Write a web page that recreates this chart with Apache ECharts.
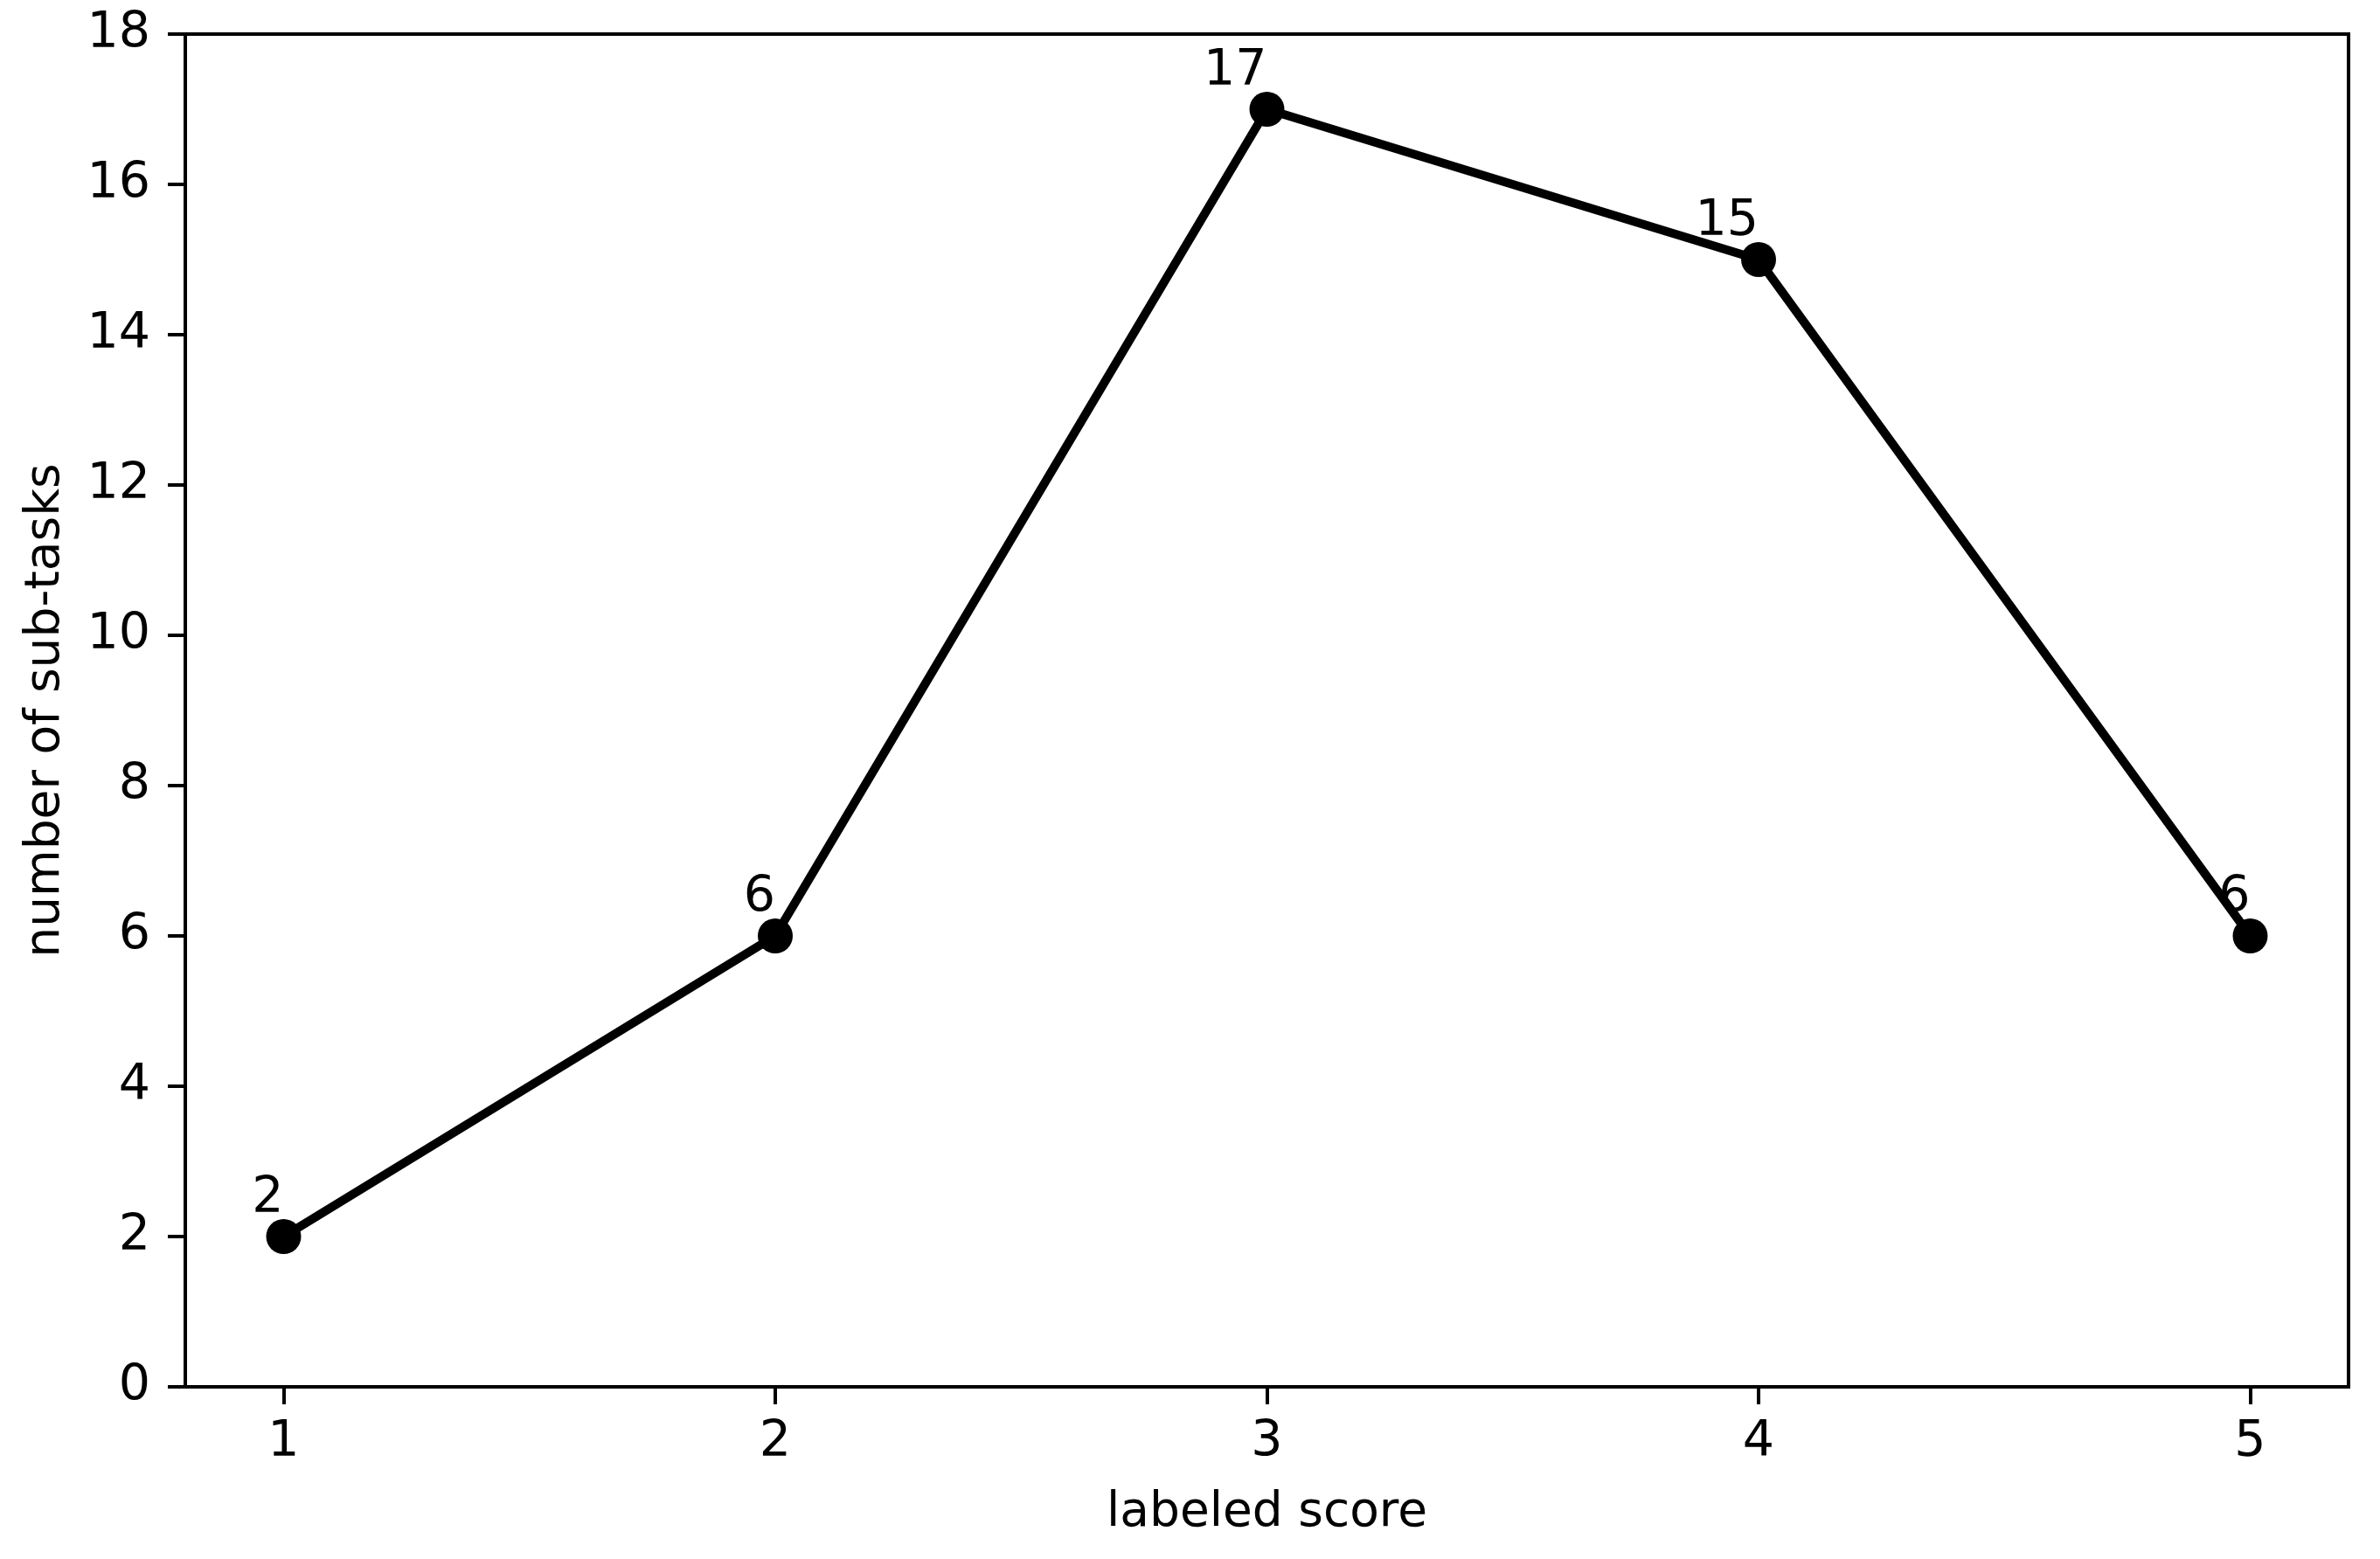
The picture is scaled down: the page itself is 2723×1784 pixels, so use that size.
<!DOCTYPE html>
<html>
<head>
<meta charset="utf-8">
<script src="https://cdn.jsdelivr.net/npm/echarts@6/dist/echarts.min.js"></script>
<style>
html,body{margin:0;padding:0;background:#fff;}
#c{width:2723px;height:1784px;}
</style>
</head>
<body>
<div id="c"></div>
<script>
const scores = [1, 2, 3, 4, 5];
const counts = [2, 6, 17, 15, 6];
const yTicks = [0, 2, 4, 6, 8, 10, 12, 14, 16, 18];
const xTicks = [1, 2, 3, 4, 5];

const FONT = 'DejaVu Sans';
const FS = 57;
const TFS = 55;
const chart = echarts.init(document.getElementById('c'), null, {renderer: 'canvas'});
chart.setOption({
  animation: false,
  backgroundColor: '#fff',
  grid: {left: 212, top: 39, width: 2475, height: 1548, show: true, borderColor: '#000', borderWidth: 4, backgroundColor: 'transparent'},
  xAxis: {
    type: 'value', min: 0.8, max: 5.2,
    name: 'labeled score', nameLocation: 'middle', nameGap: 117,
    nameTextStyle: {fontFamily: FONT, fontSize: TFS, color: '#000'},
    axisLine: {show: true, onZero: false, lineStyle: {color: '#000', width: 4}},
    axisTick: {show: true, inside: false, length: 20, lineStyle: {color: '#000', width: 4}, customValues: xTicks},
    axisLabel: {fontFamily: FONT, fontSize: FS, color: '#000', margin: 36, customValues: xTicks},
    splitLine: {show: false}
  },
  yAxis: {
    type: 'value', min: 0, max: 18, interval: 2,
    name: 'number of sub-tasks', nameLocation: 'middle', nameGap: 132,
    nameTextStyle: {fontFamily: FONT, fontSize: TFS, color: '#000'},
    axisLine: {show: true, lineStyle: {color: '#000', width: 4}},
    axisTick: {show: true, inside: false, length: 20, lineStyle: {color: '#000', width: 4}, customValues: yTicks},
    axisLabel: {fontFamily: FONT, fontSize: FS, color: '#000', margin: 40, customValues: yTicks},
    splitLine: {show: false}
  },
  series: [{
    type: 'line',
    data: scores.map((s, i) => [s, counts[i]]),
    symbol: 'circle', symbolSize: 40,
    lineStyle: {color: '#000', width: 10},
    itemStyle: {color: '#000', borderWidth: 0},
    label: {
      show: true, position: 'top', align: 'right', distance: -6,
      fontFamily: FONT, fontSize: FS, color: '#000',
      formatter: p => String(p.value[1])
    },
    z: 3
  }]
});
</script>
</body>
</html>
